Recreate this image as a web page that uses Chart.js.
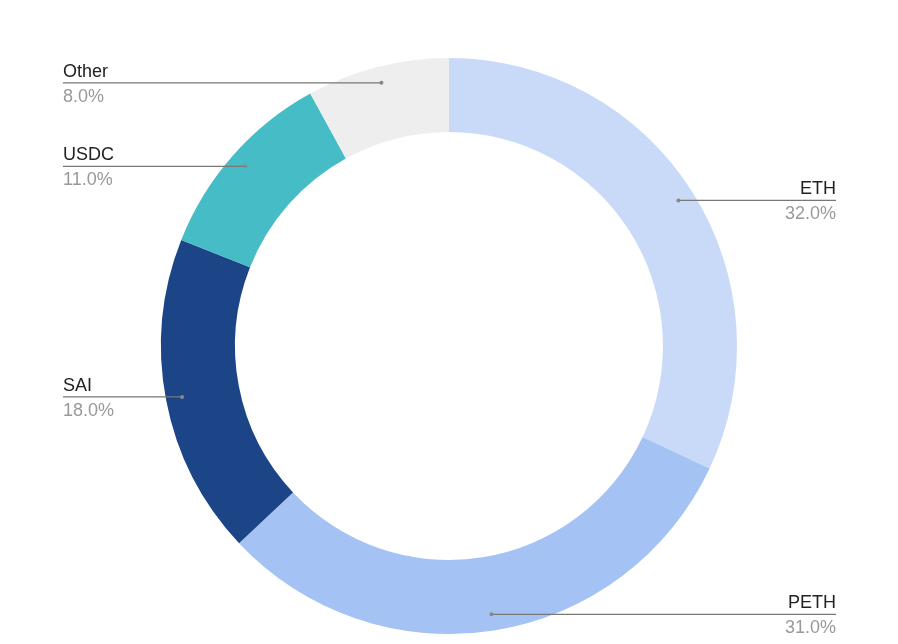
<!DOCTYPE html>
<html>
<head>
<meta charset="utf-8">
<script src="https://cdn.jsdelivr.net/npm/chart.js@4"></script>
<style>
  html, body { margin: 0; padding: 0; background: #fff; }
  #wrap { width: 898px; height: 644px; }
</style>
</head>
<body>
<div id="wrap"><canvas id="pie"></canvas></div>
<script>
// -----------------------------
// Data
// -----------------------------
const labels = ["ETH", "PETH", "SAI", "USDC", "Other"];
const shares = [32, 31, 18, 11, 8];
const colors = ["#c9daf8", "#a4c2f4", "#1c4587", "#46bdc6", "#eeeeee"];
// which side each label sits on
const sides = ["right", "right", "left", "left", "left"];

// -----------------------------
// Leader lines + labels
// -----------------------------
const leaderLabels = {
    id: "leaderLabels",
    afterDatasetsDraw(chart) {
        const ctx = chart.ctx;
        const meta = chart.getDatasetMeta(0);
        ctx.save();
        meta.data.forEach((arc, i) => {
            const p = arc.getProps(["x", "y", "startAngle", "endAngle", "innerRadius", "outerRadius"], true);
            const mid = (p.startAngle + p.endAngle) / 2;
            const r = p.innerRadius + 0.78 * (p.outerRadius - p.innerRadius);
            const px = p.x + Math.cos(mid) * r;
            const py = p.y + Math.sin(mid) * r;
            const right = sides[i] === "right";
            const tx = right ? 836 : 63;

            ctx.strokeStyle = "#777";
            ctx.lineWidth = 1.3;
            ctx.beginPath();
            ctx.moveTo(px, py);
            ctx.lineTo(tx, py);
            ctx.stroke();
            ctx.fillStyle = "#888";
            ctx.beginPath();
            ctx.arc(px, py, 2, 0, Math.PI * 2);
            ctx.fill();

            ctx.textAlign = right ? "right" : "left";
            ctx.font = "18px 'Liberation Sans', Arial, sans-serif";
            ctx.textBaseline = "alphabetic";
            ctx.fillStyle = "#222";
            ctx.fillText(labels[i], tx, py - 6);
            ctx.fillStyle = "#999";
            ctx.fillText(shares[i].toFixed(1) + "%", tx, py + 19);
        });
        ctx.restore();
    }
};

new Chart(document.getElementById("pie"), {
    type: "doughnut",
    data: {
        labels,
        datasets: [{ data: shares, backgroundColor: colors, borderWidth: 0 }]
    },
    options: {
        responsive: true,
        maintainAspectRatio: false,
        animation: false,
        cutout: "74.3%",
        layout: { padding: { top: 58, bottom: 10, left: 0, right: 0 } },
        plugins: { legend: { display: false }, tooltip: { enabled: false } }
    },
    plugins: [leaderLabels]
});
</script>
</body>
</html>
